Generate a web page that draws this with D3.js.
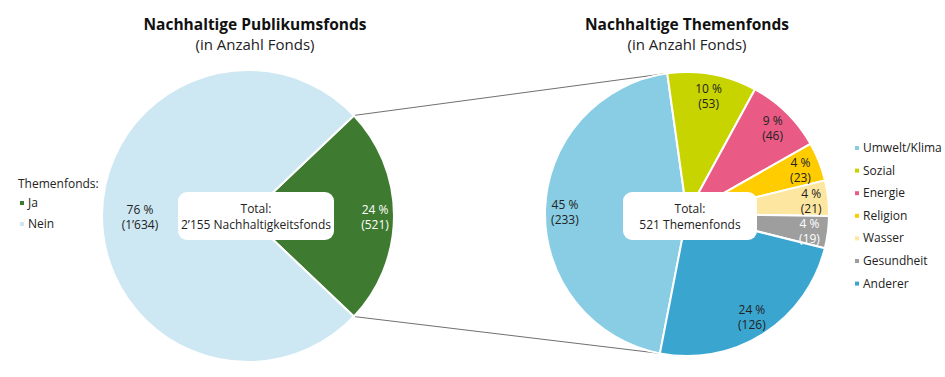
<!DOCTYPE html>
<html>
<head>
<meta charset="utf-8">
<script src="https://cdn.jsdelivr.net/npm/d3@7"></script>
<style>
  body { margin: 0; background: #fff; }
  svg { font-family: "Open Sans", "Noto Sans", sans-serif; }
</style>
</head>
<body>
<div id="chart"></div>
<script>
// Data
var leftLabels = ["Ja", "Nein"];
var leftValues = [521, 1634];
var leftPercents = ["24 %", "76 %"];
var leftCounts = ["(521)", "(1\u2019634)"];

var rightLabels = ["Umwelt/Klima", "Sozial", "Energie", "Religion", "Wasser", "Gesundheit", "Anderer"];
var rightValues = [233, 53, 46, 23, 21, 19, 126];
var rightPercents = ["45 %", "10 %", "9 %", "4 %", "4 %", "4 %", "24 %"];
var rightCounts = ["(233)", "(53)", "(46)", "(23)", "(21)", "(19)", "(126)"];

var titles = ["Nachhaltige Publikumsfonds", "Nachhaltige Themenfonds"];
var subtitle = "(in Anzahl Fonds)";
var totals = [["Total:", "2\u2019155 Nachhaltigkeitsfonds"], ["Total:", "521 Themenfonds"]];

// Layout
var width = 945, height = 377;
var left = { cx: 248, cy: 216, r: 146 },
    right = { cx: 687, cy: 214, r: 142 };

var leftColor = d3.scaleOrdinal().domain(leftLabels).range(["#3e7b30", "#cde8f3"]);
var rightColor = d3.scaleOrdinal().domain(rightLabels)
  .range(["#88cde3", "#c8d400", "#e95b85", "#ffcc00", "#fde7a0", "#9e9e9e", "#3aa6d0"]);
var leftText = ["#ffffff", "#222222"];
var rightText = ["#222222", "#222222", "#222222", "#222222", "#222222", "#ffffff", "#222222"];
var leftLabelR = [0.87, 0.74];
var rightLabelR = [0.86, 0.85, 0.86, 0.86, 0.88, 0.87, 0.85];

var svg = d3.select("#chart").append("svg")
  .attr("width", width)
  .attr("height", height);

var deg = Math.PI / 180;

// Pie layouts
var leftSpan = 2 * Math.PI * leftValues[0] / d3.sum(leftValues);
var leftStart = Math.PI / 2 - leftSpan / 2;
var leftArcs = d3.pie().sort(null)
  .startAngle(leftStart).endAngle(leftStart + 2 * Math.PI)(leftValues);

var rightStart = -169 * deg;
var rightArcs = d3.pie().sort(null)
  .startAngle(rightStart).endAngle(rightStart + 2 * Math.PI)(rightValues);

function pt(c, a, r) { return [c.cx + r * Math.sin(a), c.cy - r * Math.cos(a)]; }

// Connector lines (drawn first, behind the pies)
var ja = leftArcs[0], umwelt = rightArcs[0];
var connectors = [
  [pt(left, ja.startAngle, left.r), pt(right, umwelt.endAngle, right.r)],
  [pt(left, ja.endAngle, left.r), pt(right, umwelt.startAngle + 2 * Math.PI, right.r)]
];
svg.selectAll(".conn").data(connectors).enter().append("line")
  .attr("x1", d => d[0][0]).attr("y1", d => d[0][1])
  .attr("x2", d => d[1][0]).attr("y2", d => d[1][1])
  .attr("stroke", "#707070").attr("stroke-width", 1);

function drawPie(c, arcs, labels, color, pcts, counts, textCol, labR) {
  var g = svg.append("g").attr("transform", "translate(" + c.cx + "," + c.cy + ")");
  var arc = d3.arc().innerRadius(0).outerRadius(c.r);
  g.selectAll("path").data(arcs).enter().append("path")
    .attr("d", arc)
    .attr("fill", (d, i) => color(labels[i]))
    .attr("stroke", "#fff").attr("stroke-width", 2).attr("stroke-linejoin", "round");
  var lab = g.selectAll(".lab").data(arcs).enter().append("text")
    .attr("text-anchor", "middle")
    .attr("font-size", 12)
    .attr("fill", (d, i) => textCol[i])
    .attr("transform", function (d, i) {
      var a = (d.startAngle + d.endAngle) / 2, r = c.r * labR[i];
      return "translate(" + (r * Math.sin(a)) + "," + (-r * Math.cos(a)) + ")";
    });
  lab.append("tspan").attr("x", 0).attr("y", -2).text((d, i) => pcts[i]);
  lab.append("tspan").attr("x", 0).attr("y", 13).text((d, i) => counts[i]);
}

drawPie(left, leftArcs, leftLabels, leftColor, leftPercents, leftCounts, leftText, leftLabelR);
drawPie(right, rightArcs, rightLabels, rightColor, rightPercents, rightCounts, rightText, rightLabelR);

// Total boxes
var boxes = [{ x: 178, y: 192, w: 156, h: 48 }, { x: 623, y: 192, w: 134, h: 48 }];
boxes.forEach(function (b, i) {
  svg.append("rect").attr("x", b.x).attr("y", b.y).attr("width", b.w).attr("height", b.h)
    .attr("rx", 9).attr("fill", "#fff");
  var t = svg.append("text").attr("text-anchor", "middle").attr("font-size", 12).attr("fill", "#222");
  t.append("tspan").attr("x", b.x + b.w / 2).attr("y", b.y + 21).text(totals[i][0]);
  t.append("tspan").attr("x", b.x + b.w / 2).attr("y", b.y + 37).text(totals[i][1]);
});

// Titles
[255, 687].forEach(function (x, i) {
  svg.append("text").attr("x", x).attr("y", 30).attr("text-anchor", "middle")
    .attr("font-size", 15.5).attr("font-weight", "bold").attr("fill", "#111").text(titles[i]);
  svg.append("text").attr("x", x).attr("y", 50).attr("text-anchor", "middle")
    .attr("font-size", 15).attr("fill", "#222").text(subtitle);
});

// Left legend
svg.append("text").attr("x", 18).attr("y", 188).attr("font-size", 12).attr("fill", "#222").text("Themenfonds:");
var ll = svg.selectAll(".ll").data(leftLabels).enter().append("g")
  .attr("transform", (d, i) => "translate(20," + (207 + i * 21) + ")");
ll.append("rect").attr("x", 0).attr("y", -6).attr("width", 4).attr("height", 4).attr("fill", d => leftColor(d));
ll.append("text").attr("x", 8).attr("y", 0).attr("font-size", 12).attr("fill", "#222").text(d => d);

// Right legend
var rl = svg.selectAll(".rl").data(rightLabels).enter().append("g")
  .attr("transform", (d, i) => "translate(855," + (152 + i * 22.6) + ")");
rl.append("rect").attr("x", 0).attr("y", -6).attr("width", 4).attr("height", 4).attr("fill", d => rightColor(d));
rl.append("text").attr("x", 8).attr("y", 0).attr("font-size", 12).attr("fill", "#222").text(d => d);
</script>
</body>
</html>
